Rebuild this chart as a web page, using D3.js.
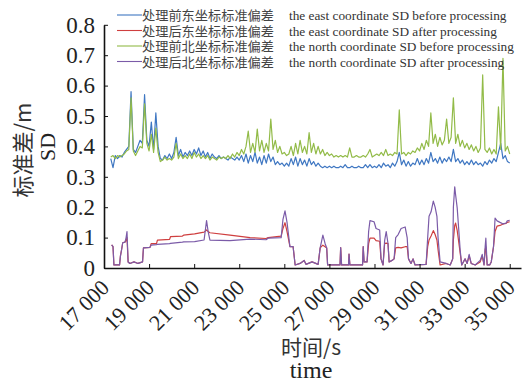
<!DOCTYPE html>
<html>
<head>
<meta charset="utf-8">
<script src="https://cdn.jsdelivr.net/npm/d3@7"></script>
<style>
  body { margin: 0; background: #fff; }
  text { font-family: "Liberation Serif", "Times New Roman", serif; fill: #222; }
  .cjk { font-family: "Noto Sans CJK SC", sans-serif; }
</style>
</head>
<body>
<svg width="523" height="382"></svg>
<script>
// series names (legend)
var seriesCn = ["处理前东坐标标准偏差", "处理后东坐标标准偏差", "处理前北坐标标准偏差", "处理后北坐标标准偏差"];
var seriesEn = ["the east coordinate SD before processing", "the east coordinate SD after processing",
  "the north coordinate SD before processing", "the north coordinate SD after processing"];
var colors = ["#3f77c2", "#cf3f3f", "#92bb48", "#7b5ba8"];

var xTicks = [17000, 19000, 21000, 23000, 25000, 27000, 29000, 31000, 33000, 35000];
var yTicks = [0, 0.1, 0.2, 0.3, 0.4, 0.5, 0.6, 0.7, 0.8];

// before processing: sampled every 100 s
var timeBefore = [
  17300, 17400, 17500, 17600, 17700, 17800, 17900, 18000, 18100, 18200,
  18300, 18400, 18500, 18600, 18700, 18800, 18900, 19000, 19100, 19200,
  19300, 19400, 19500, 19600, 19700, 19800, 19900, 20000, 20100, 20200,
  20300, 20400, 20500, 20600, 20700, 20800, 20900, 21000, 21100, 21200,
  21300, 21400, 21500, 21600, 21700, 21800, 21900, 22000, 22100, 22200,
  22300, 22400, 22500, 22600, 22700, 22800, 22900, 23000, 23100, 23200,
  23300, 23400, 23500, 23600, 23700, 23800, 23900, 24000, 24100, 24200,
  24300, 24400, 24500, 24600, 24700, 24800, 24900, 25000, 25100, 25200,
  25300, 25400, 25500, 25600, 25700, 25800, 25900, 26000, 26100, 26200,
  26300, 26400, 26500, 26600, 26700, 26800, 26900, 27000, 27100, 27200,
  27300, 27400, 27500, 27600, 27700, 27800, 27900, 28000, 28100, 28200,
  28300, 28400, 28500, 28600, 28700, 28800, 28900, 29000, 29100, 29200,
  29300, 29400, 29500, 29600, 29700, 29800, 29900, 30000, 30100, 30200,
  30300, 30400, 30500, 30600, 30700, 30800, 30900, 31000, 31100, 31200,
  31300, 31400, 31500, 31600, 31700, 31800, 31900, 32000, 32100, 32200,
  32300, 32400, 32500, 32600, 32700, 32800, 32900, 33000, 33100, 33200,
  33300, 33400, 33500, 33600, 33700, 33800, 33900, 34000, 34100, 34200,
  34300, 34400, 34500, 34600, 34700, 34800, 34900, 35000
];
var eastBefore = [
  0.36, 0.33, 0.37, 0.36, 0.37, 0.365, 0.38, 0.39, 0.40, 0.58,
  0.39, 0.38, 0.40, 0.42, 0.41, 0.57, 0.42, 0.40, 0.48, 0.39,
  0.51, 0.40, 0.36, 0.355, 0.37, 0.36, 0.375, 0.36, 0.38, 0.43,
  0.37, 0.39, 0.365, 0.38, 0.37, 0.385, 0.37, 0.39, 0.375, 0.395,
  0.37, 0.385, 0.365, 0.38, 0.36, 0.375, 0.365, 0.36, 0.37, 0.36,
  0.365, 0.36, 0.355, 0.365, 0.36, 0.355, 0.365, 0.355, 0.37, 0.35,
  0.375, 0.345, 0.37, 0.35, 0.38, 0.345, 0.365, 0.34, 0.37, 0.345,
  0.375, 0.35, 0.365, 0.34, 0.35, 0.34, 0.345, 0.335, 0.345, 0.335,
  0.36, 0.34, 0.365, 0.335, 0.36, 0.34, 0.355, 0.335, 0.36, 0.34,
  0.35, 0.335, 0.345, 0.335, 0.33, 0.335, 0.33, 0.335, 0.33, 0.335,
  0.33, 0.33, 0.335, 0.33, 0.34, 0.33, 0.33, 0.335, 0.33, 0.33,
  0.335, 0.33, 0.33, 0.34, 0.33, 0.34, 0.33, 0.335, 0.33, 0.34,
  0.33, 0.345, 0.335, 0.34, 0.33, 0.345, 0.335, 0.35, 0.38, 0.34,
  0.355, 0.335, 0.35, 0.335, 0.345, 0.34, 0.36, 0.34, 0.355, 0.34,
  0.36, 0.345, 0.38, 0.35, 0.36, 0.345, 0.365, 0.345, 0.36, 0.35,
  0.365, 0.35, 0.39, 0.35, 0.36, 0.345, 0.355, 0.34, 0.35, 0.34,
  0.355, 0.34, 0.35, 0.34, 0.345, 0.335, 0.35, 0.34, 0.355, 0.345,
  0.36, 0.35, 0.38, 0.41, 0.36, 0.37, 0.35, 0.345
];
var northBefore = [
  0.365, 0.37, 0.36, 0.37, 0.365, 0.37, 0.375, 0.385, 0.39, 0.56,
  0.385, 0.37, 0.385, 0.40, 0.395, 0.54, 0.41, 0.385, 0.44, 0.38,
  0.46, 0.38, 0.35, 0.355, 0.365, 0.355, 0.36, 0.355, 0.365, 0.41,
  0.36, 0.375, 0.36, 0.37, 0.36, 0.375, 0.36, 0.38, 0.365, 0.375,
  0.36, 0.37, 0.36, 0.37, 0.355, 0.365, 0.36, 0.355, 0.365, 0.36,
  0.365, 0.36, 0.37, 0.36, 0.375, 0.365, 0.38, 0.37, 0.39, 0.375,
  0.40, 0.45, 0.38, 0.41, 0.38, 0.457, 0.385, 0.42, 0.38, 0.41,
  0.385, 0.49, 0.39, 0.42, 0.38, 0.40, 0.375, 0.38, 0.37, 0.375,
  0.40, 0.37, 0.41, 0.375, 0.42, 0.38, 0.40, 0.375, 0.445, 0.38,
  0.41, 0.375, 0.40, 0.375, 0.39, 0.37, 0.38, 0.37, 0.375, 0.365,
  0.37, 0.365, 0.37, 0.365, 0.37, 0.365, 0.395, 0.365, 0.365, 0.37,
  0.365, 0.365, 0.37, 0.365, 0.375, 0.39, 0.365, 0.37, 0.375, 0.37,
  0.38, 0.37, 0.39, 0.37, 0.375, 0.37, 0.38, 0.375, 0.52, 0.375,
  0.38, 0.37, 0.38, 0.375, 0.385, 0.38, 0.395, 0.385, 0.41, 0.39,
  0.42, 0.40, 0.51, 0.41, 0.44, 0.40, 0.43, 0.405, 0.42, 0.49,
  0.41, 0.43, 0.56, 0.41, 0.44, 0.40, 0.42, 0.395, 0.41, 0.39,
  0.405, 0.385, 0.40, 0.38, 0.395, 0.635, 0.39, 0.38, 0.395, 0.375,
  0.39, 0.375, 0.53, 0.39, 0.69, 0.385, 0.40, 0.375
];

// after processing: change points
var timeAfter = [
  17340, 17400, 17440, 17690, 17730, 17780, 17830, 17930, 17980, 18020,
  18070, 18150, 18330, 18510, 18710, 18750, 19040, 19090, 19330, 19370,
  19910, 19950, 20480, 20530, 21020, 21440, 21550, 21620, 21700, 22590,
  23480, 24190, 24280, 24860, 24940, 25030, 25120, 25250, 25390, 25480,
  25700, 25880, 25960, 26230, 26500, 26590, 26710, 26810, 26880, 26920,
  27470, 27500, 27540, 27850, 27870, 27910, 28470, 28500, 28540, 28670,
  28740, 28800, 28980, 29070, 29230, 29290, 29380, 29450, 29520, 29600,
  29650, 29780, 29870, 29940, 30050, 30180, 30360, 30450, 30510, 30620,
  30710, 30800, 31290, 31360, 31420, 31510, 31610, 31690, 31770, 31820,
  31910, 32180, 32360, 32470, 32500, 32560, 32600, 32670, 32730, 32800,
  32870, 33020, 33110, 33200, 33290, 33470, 33690, 33780, 33860, 33910,
  33940, 34000, 34110, 34180, 34280, 34350, 34440, 34570, 34710, 34840,
  34890, 35000
];
var eastAfter = [
  0.076, 0.07, 0.01, 0.01, 0.04, 0.06, 0.083, 0.085, 0.09, 0.10,
  0.02, 0.015, 0.02, 0.015, 0.02, 0.066, 0.068, 0.08, 0.08, 0.092,
  0.094, 0.103, 0.105, 0.108, 0.112, 0.118, 0.125, 0.12, 0.116, 0.108,
  0.10, 0.097, 0.10, 0.105, 0.13, 0.149, 0.12, 0.07, 0.07, 0.01,
  0.015, 0.025, 0.012, 0.02, 0.012, 0.066, 0.075, 0.07, 0.066, 0.01,
  0.01, 0.067, 0.01, 0.01, 0.046, 0.01, 0.01, 0.07, 0.02, 0.02,
  0.08, 0.098, 0.098, 0.09, 0.088, 0.03, 0.01, 0.08, 0.082, 0.08,
  0.02, 0.025, 0.03, 0.066, 0.068, 0.066, 0.07, 0.07, 0.03, 0.015,
  0.03, 0.01, 0.012, 0.07, 0.092, 0.105, 0.123, 0.11, 0.092, 0.06,
  0.01, 0.015, 0.01, 0.03, 0.092, 0.14, 0.148, 0.123, 0.09, 0.05,
  0.01, 0.03, 0.015, 0.04, 0.015, 0.01, 0.02, 0.04, 0.01, 0.06,
  0.07, 0.01, 0.01, 0.02, 0.07, 0.12, 0.138, 0.14, 0.145, 0.147,
  0.15, 0.152
];
var northAfter = [
  0.076, 0.07, 0.01, 0.01, 0.04, 0.06, 0.083, 0.085, 0.10, 0.12,
  0.02, 0.015, 0.02, 0.015, 0.02, 0.066, 0.068, 0.075, 0.077, 0.078,
  0.08, 0.081, 0.085, 0.086, 0.087, 0.092, 0.156, 0.12, 0.092, 0.09,
  0.095, 0.093, 0.098, 0.10, 0.16, 0.188, 0.15, 0.07, 0.07, 0.01,
  0.015, 0.025, 0.012, 0.02, 0.012, 0.066, 0.108, 0.08, 0.066, 0.01,
  0.01, 0.067, 0.01, 0.01, 0.046, 0.01, 0.01, 0.07, 0.02, 0.02,
  0.12, 0.156, 0.152, 0.13, 0.125, 0.03, 0.01, 0.09, 0.12, 0.08,
  0.02, 0.025, 0.03, 0.10, 0.11, 0.13, 0.135, 0.10, 0.03, 0.015,
  0.03, 0.01, 0.012, 0.10, 0.17, 0.185, 0.22, 0.20, 0.17, 0.10,
  0.02, 0.015, 0.01, 0.03, 0.20, 0.267, 0.24, 0.197, 0.135, 0.06,
  0.01, 0.03, 0.015, 0.045, 0.015, 0.01, 0.025, 0.045, 0.01, 0.07,
  0.098, 0.01, 0.01, 0.02, 0.07, 0.164, 0.155, 0.15, 0.145, 0.148,
  0.155, 0.157
];

var svg = d3.select("svg");

var x = d3.scaleLinear().domain([17000, 35500]).range([104, 521]);
var y = d3.scaleLinear().domain([0, 0.8]).range([268, 24.8]);

var series = [
  { t: timeBefore, v: eastBefore },
  { t: timeAfter, v: eastAfter },
  { t: timeBefore, v: northBefore },
  { t: timeAfter, v: northAfter }
];

var line = d3.line()
  .x(function (d) { return x(d[0]); })
  .y(function (d) { return y(d[1]); });

svg.append("g").selectAll("path")
  .data(series)
  .enter().append("path")
  .attr("fill", "none")
  .attr("stroke", function (d, i) { return colors[i]; })
  .attr("stroke-width", 1.2)
  .attr("stroke-linejoin", "round")
  .attr("d", function (d) { return line(d.t.map(function (t, j) { return [t, d.v[j]]; })); });

// axes
var xAxis = svg.append("g")
  .attr("transform", "translate(0,268)")
  .call(d3.axisBottom(x).tickValues(xTicks).tickSizeInner(-4).tickSizeOuter(0)
    .tickFormat(function (d) { return d3.format(",")(d).replace(",", " "); }))
  .attr("font-family", "Liberation Serif")
  .attr("font-size", 22);

xAxis.selectAll("text")
  .attr("x", 6).attr("y", 21).attr("dy", 0)
  .attr("text-anchor", "end")
  .attr("transform", "rotate(-45,6,21)");

var yAxis = svg.append("g")
  .attr("transform", "translate(104,0)")
  .call(d3.axisLeft(y).tickValues(yTicks).tickSizeInner(-4).tickSizeOuter(0).tickPadding(9)
    .tickFormat(d3.format(".1~f")))
  .attr("font-family", "Liberation Serif")
  .attr("font-size", 23);

svg.selectAll(".domain").attr("stroke", "#111").attr("stroke-width", 1.6);
svg.selectAll(".tick line").attr("stroke", "#111").attr("stroke-width", 1);
svg.selectAll(".tick text").attr("fill", "#222");

// axis titles
svg.append("text").attr("class", "cjk")
  .attr("x", 311).attr("y", 355)
  .attr("text-anchor", "middle")
  .style("font-size", "21px").style("fill", "#333")
  .text("时间/s");
svg.append("text")
  .attr("x", 311).attr("y", 378)
  .attr("text-anchor", "middle")
  .style("font-size", "24px")
  .text("time");

svg.append("text").attr("class", "cjk")
  .attr("transform", "translate(31,150) rotate(-90)")
  .attr("text-anchor", "middle")
  .style("font-size", "22px").style("fill", "#333")
  .text("标准差/m");
svg.append("text")
  .attr("transform", "translate(55,147) rotate(-90)")
  .attr("text-anchor", "middle")
  .style("font-size", "22px")
  .text("SD");

// legend
var legend = svg.append("g").selectAll("g")
  .data(seriesCn)
  .enter().append("g")
  .attr("transform", function (d, i) { return "translate(0," + (15 + i * 15.5) + ")"; });

legend.append("line")
  .attr("x1", 117).attr("x2", 142)
  .attr("stroke", function (d, i) { return colors[i]; })
  .attr("stroke-width", 1.1);

legend.append("text").attr("class", "cjk")
  .attr("x", 142).attr("y", 5)
  .attr("textLength", 132).attr("lengthAdjust", "spacingAndGlyphs")
  .style("font-size", "13px").style("fill", "#444")
  .text(function (d) { return d; });

legend.append("text")
  .attr("x", 289).attr("y", 5)
  .style("font-size", "13.3px").style("fill", "#333")
  .text(function (d, i) { return seriesEn[i]; });
</script>
</body>
</html>
